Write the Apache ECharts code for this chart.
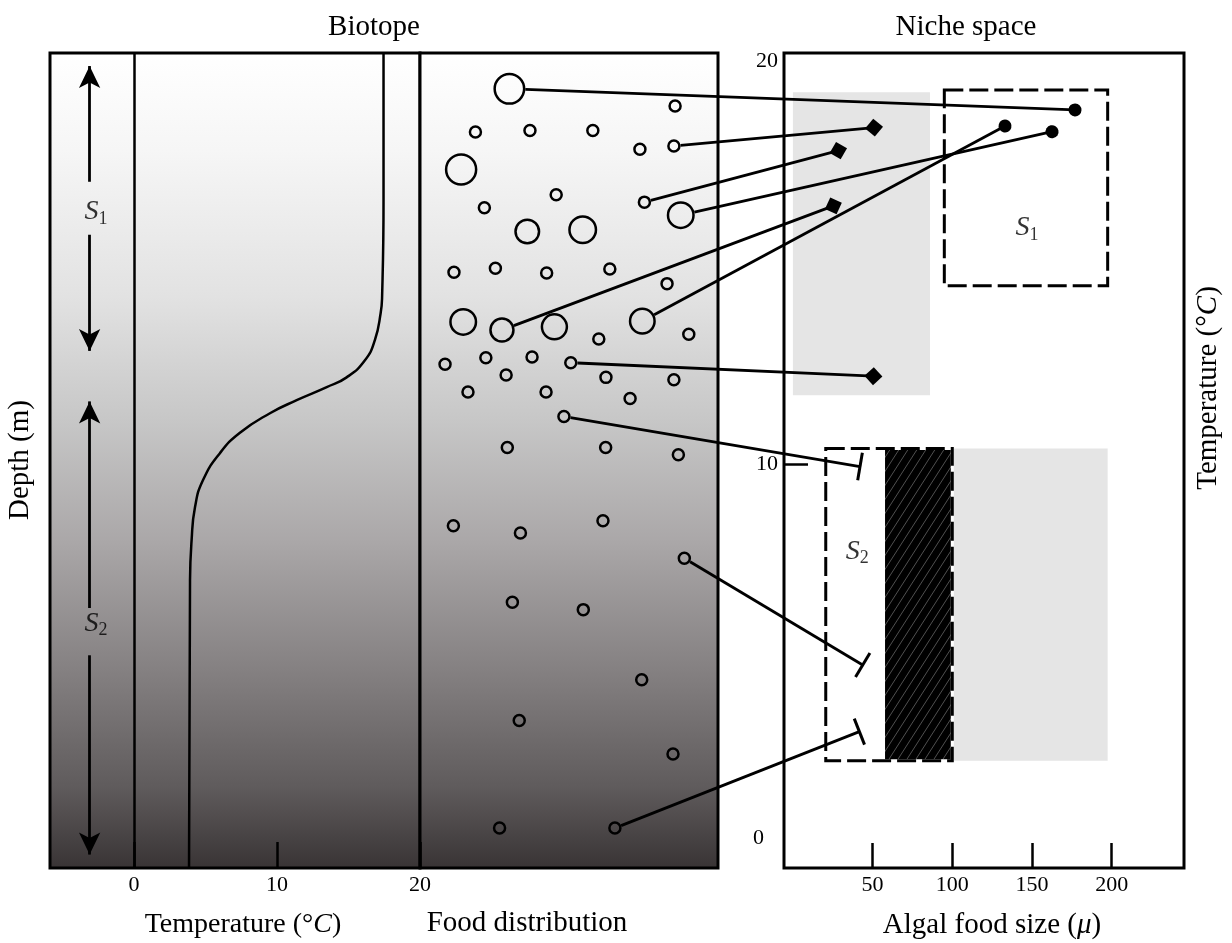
<!DOCTYPE html>
<html><head><meta charset="utf-8">
<script src="https://cdn.jsdelivr.net/npm/echarts@6/dist/echarts.min.js"></script>
<style>html,body{margin:0;padding:0;background:#fff}#c{width:1232px;height:943px}</style>
</head><body><div id="c"></div>
<script>
// ---------------- data ----------------
// Biotope: temperature axis ticks and temperature profile (depth in relative units, 0 = surface, 100 = bottom)
const tempTicks = [0, 10, 20];
const profileDepth = [0, 18, 29.9, 31.9, 35.2, 37.7, 39.8, 41.0, 42.6, 44.2, 46.6, 49.1, 52.4, 55.7, 59.8, 64.7, 100];
const profileTemp  = [17.45, 17.45, 17.35, 17.25, 16.85, 16.15, 14.87, 13.48, 11.38, 9.51, 7.41, 6.01, 4.83, 4.27, 4.03, 3.92, 3.85];

// Food distribution: horizontal position (0-100), depth (0-100), relative particle size
const foodPos = [30.0, 85.6, 18.6, 36.9, 58.0, 73.8, 85.2, 13.8, 45.7, 21.6,
                 75.3, 87.5, 36.0, 54.6, 11.4, 25.3, 42.5, 63.7, 82.9, 14.5,
                 27.5, 45.1, 74.6, 90.2, 60.0, 8.4, 22.1, 37.6, 50.6, 28.9,
                 62.4, 85.2, 16.1, 42.3, 70.5, 48.3, 29.3, 62.3, 86.7, 11.2,
                 33.7, 61.4, 88.7, 31.0, 54.8, 74.4, 33.3, 84.9, 26.7, 65.4];
const foodDepth = [4.4, 6.5, 9.7, 9.5, 9.5, 11.8, 11.4, 14.3, 17.4, 19.0,
                   18.3, 19.9, 21.9, 21.7, 26.9, 26.4, 27.0, 26.5, 28.3, 33.0,
                   34.0, 33.6, 32.9, 34.5, 35.1, 38.2, 37.4, 37.3, 38.0, 39.5,
                   39.8, 40.1, 41.6, 41.6, 42.4, 44.6, 48.4, 48.4, 49.3, 58.0,
                   58.9, 57.4, 62.0, 67.4, 68.3, 76.9, 81.9, 86.0, 95.1, 95.1];
const foodParticle = [2.68, 1, 1, 1, 1, 1, 1, 2.73, 1, 1,
                      1, 2.32, 2.14, 2.41, 1, 1, 1, 1, 1, 2.32,
                      2.09, 2.27, 2.23, 1, 1, 1, 1, 1, 1, 1,
                      1, 1, 1, 1, 1, 1, 1, 1, 1, 1,
                      1, 1, 1, 1, 1, 1, 1, 1, 1, 1];

// Species ranges along the depth axis: [from, arrow tip]
const depthArrows = [[15.8, 0.25], [22.3, 37.9], [68.1, 41.4], [73.9, 99.7]];
const arrowTemp = -3.1;
const biotopeLabels = [[-2.65, 19.5, '1'], [-2.65, 70.0, '2']];

// Niche space
const sizeTicks = [50, 100, 150, 200];
const nicheTempLabels = [0, 10, 20];
const nicheTempTicks = [10];
// rectangles: [size from, size to, temp from, temp to]
const foodRangeS1 = [0, 86, 11.72, 19.23];
const foodRangeS2 = [100, 197.5, 2.66, 10.4];
const usedRangeS2 = [57.8, 100, 2.66, 10.4];
const nicheS1 = [95, 197.5, 14.43, 19.28];
const nicheS2 = [20.6, 100, 2.66, 10.4];
const nicheLabels = [[146.9, 15.86, '1'], [40.4, 7.84, '2']];

// Niche points linked to food items
const nicheSize = [177.0, 50.9, 28.5, 162.6, 25.4, 133.1, 50.5, 42.1, 43.8, 41.7];
const nicheTemp = [18.79, 18.35, 17.78, 18.25, 16.41, 18.39, 12.19, 9.95, 5.03, 3.38];
const nicheKind = ['dot', 'diamond', 'diamond', 'dot', 'diamond', 'dot', 'diamond', 'bar', 'bar', 'bar'];
const nicheFood = [0, 6, 10, 11, 20, 22, 28, 35, 42, 49];

// ---------------- chart ----------------
const FONT = '"Liberation Serif", "DejaVu Serif", serif';
const chart = echarts.init(document.getElementById('c'), null, {renderer: 'canvas'});

const grad = new echarts.graphic.LinearGradient(0, 0, 0, 1, [
  {offset: 0, color: '#ffffff'}, {offset: 0.12, color: '#f6f6f6'},
  {offset: 0.3, color: '#e2e2e2'}, {offset: 0.45, color: '#c7c7c7'},
  {offset: 0.6, color: '#aaa7a8'}, {offset: 0.75, color: '#868283'},
  {offset: 0.9, color: '#5f5b5c'}, {offset: 1, color: '#383334'}
]);

// hatch pattern
const pc = document.createElement('canvas');
pc.width = 9; pc.height = 14;
const pctx = pc.getContext('2d');
pctx.fillStyle = '#000'; pctx.fillRect(0, 0, 9, 14);
pctx.strokeStyle = 'rgba(255,255,255,0.45)'; pctx.lineWidth = 0.7;
[[0, 14, 9, 0], [-9, 14, 0, 0], [9, 14, 18, 0]].forEach(l => {
  pctx.beginPath(); pctx.moveTo(l[0], l[1]); pctx.lineTo(l[2], l[3]); pctx.stroke();
});
const hatch = {image: pc, repeat: 'repeat'};

const sRich = {
  s: {fontFamily: FONT, fontStyle: 'italic', fontSize: 28, color: '#000', lineHeight: 32},
  n: {fontFamily: FONT, fontSize: 18, color: '#000', verticalAlign: 'bottom', lineHeight: 14}
};
const sLabel = {show: true, position: 'inside', formatter: p => '{s|S}{n|' + p.data[2] + '}', rich: sRich};

const rects = [foodRangeS1, foodRangeS2, usedRangeS2, nicheS1, nicheS2];
const rectKind = ['gray', 'gray', 'hatch', 'dash', 'dashW'];

const gridBase = {containLabel: false, outerBoundsMode: 'none'};
const tickStyle = {color: '#000', width: 2.5};
const LW = 2.8;

const option = {
  animation: false,
  backgroundColor: '#fff',
  textStyle: {fontFamily: FONT},
  grid: [
    Object.assign({left: 50, top: 53, width: 370, height: 815, show: true, backgroundColor: grad, borderColor: '#000', borderWidth: 3}, gridBase),
    Object.assign({left: 420, top: 53, width: 298, height: 815, show: true, backgroundColor: grad, borderColor: '#000', borderWidth: 3}, gridBase),
    Object.assign({left: 784, top: 53, width: 400, height: 815, show: true, backgroundColor: '#fff', borderColor: '#000', borderWidth: 3}, gridBase),
    Object.assign({left: 0, top: 0, width: 1232, height: 943, show: false}, gridBase)
  ],
  xAxis: [
    {gridIndex: 0, type: 'value', min: -5.87, max: 20, position: 'bottom', axisLine: {show: false, onZero: false}, splitLine: {show: false},
     axisTick: {show: true, inside: true, length: 26, customValues: tempTicks, lineStyle: tickStyle},
     axisLabel: {customValues: tempTicks, color: '#000', fontSize: 22, margin: 6, fontFamily: FONT}},
    {gridIndex: 1, type: 'value', min: 0, max: 100, show: false},
    {gridIndex: 2, type: 'value', min: -5.6, max: 245.4, position: 'bottom', axisLine: {show: false, onZero: false}, splitLine: {show: false},
     axisTick: {show: true, inside: true, length: 25, customValues: sizeTicks, lineStyle: tickStyle},
     axisLabel: {customValues: sizeTicks, color: '#000', fontSize: 22, margin: 6, fontFamily: FONT}},
    {gridIndex: 3, type: 'value', min: 0, max: 1232, show: false}
  ],
  yAxis: [
    {gridIndex: 0, type: 'value', min: 0, max: 100, inverse: true, show: false},
    {gridIndex: 1, type: 'value', min: 0, max: 100, inverse: true, show: false},
    {gridIndex: 2, type: 'value', min: 0, max: 20.2, position: 'left', axisLine: {show: false, onZero: false}, splitLine: {show: false},
     axisTick: {show: true, inside: true, length: 24, customValues: nicheTempTicks, lineStyle: tickStyle},
     axisLabel: {customValues: nicheTempLabels, color: '#000', margin: 6,
       formatter: v => v === 0 ? '{z|0}' : '{n|' + v + '}',
       rich: {z: {fontSize: 22, fontFamily: FONT, padding: [0, 14, 60, 0]}, n: {fontSize: 22, fontFamily: FONT}}}},
    {gridIndex: 3, type: 'value', min: 0, max: 943, inverse: true, show: false}
  ],
  series: [
    {type: 'line', id: 'profile', xAxisIndex: 0, yAxisIndex: 0,
     data: profileTemp.map((t, i) => [t, profileDepth[i]]),
     smooth: 0.5, symbol: 'none', silent: true,
     lineStyle: {color: '#000', width: 2.5}, z: 3,
     markLine: {silent: true, symbol: 'none', animation: false, label: {show: false},
       lineStyle: {color: '#000', width: 2.5, type: 'solid'}, data: [{xAxis: tempTicks[0]}]}},
    {type: 'scatter', id: 'food', xAxisIndex: 1, yAxisIndex: 1, silent: true,
     data: foodPos.map((x, i) => [x, foodDepth[i], foodParticle[i]]),
     symbol: 'circle', symbolSize: d => d[2] * 11,
     itemStyle: {color: 'rgba(0,0,0,0)', borderColor: '#000', borderWidth: 2.5, opacity: 1}, z: 4},
    {type: 'scatter', id: 'bioLabels', xAxisIndex: 0, yAxisIndex: 0, silent: true,
     data: biotopeLabels, symbolSize: 1, itemStyle: {color: 'rgba(0,0,0,0)'}, label: sLabel, z: 6},
    {type: 'custom', id: 'rects', xAxisIndex: 2, yAxisIndex: 2, silent: true, z: 2,
     data: rects.map(r => r.slice()),
     renderItem: (params, api) => {
       const k = rectKind[params.dataIndex];
       const p0 = api.coord([api.value(0), api.value(3)]);
       const p1 = api.coord([api.value(1), api.value(2)]);
       const shape = {x: p0[0], y: p0[1], width: p1[0] - p0[0], height: p1[1] - p0[1]};
       if (k === 'gray') return {type: 'rect', shape, style: {fill: '#e5e5e5'}};
       if (k === 'hatch') return {type: 'rect', shape, style: {fill: hatch}};
       const dashed = {type: 'rect', shape, style: {fill: 'none', stroke: '#000', lineWidth: 3, lineDash: [19, 6]}};
       if (k === 'dash') return dashed;
       return {type: 'group', children: [
         {type: 'rect', shape, style: {fill: 'none', stroke: '#fff', lineWidth: 3}}, dashed]};
     }},
    {type: 'scatter', id: 'nicheLabels', xAxisIndex: 2, yAxisIndex: 2, silent: true,
     data: nicheLabels, symbolSize: 1, itemStyle: {color: 'rgba(0,0,0,0)'}, label: sLabel, z: 6},
    {type: 'lines', id: 'arrows', coordinateSystem: 'cartesian2d', xAxisIndex: 3, yAxisIndex: 3, silent: true,
     data: [], symbol: ['none', 'arrow'], symbolSize: [[1, 1], [16, 22]], lineStyle: {color: '#000', width: LW, opacity: 1}, z: 5},
    {type: 'lines', id: 'toDot', coordinateSystem: 'cartesian2d', xAxisIndex: 3, yAxisIndex: 3, silent: true,
     data: [], symbol: ['none', 'circle'], symbolSize: 13, lineStyle: {color: '#000', width: LW, opacity: 1}, z: 5},
    {type: 'lines', id: 'toDiamond', coordinateSystem: 'cartesian2d', xAxisIndex: 3, yAxisIndex: 3, silent: true,
     data: [], symbol: ['none', 'diamond'], symbolSize: 18, lineStyle: {color: '#000', width: LW, opacity: 1}, z: 5},
    {type: 'lines', id: 'toBar', coordinateSystem: 'cartesian2d', xAxisIndex: 3, yAxisIndex: 3, silent: true,
     data: [], symbol: ['none', 'rect'], symbolSize: [[1, 1], [28, 3]], lineStyle: {color: '#000', width: LW, opacity: 1}, z: 5}
  ],
  graphic: [
    {type: 'text', x: 374, y: 27, style: {text: 'Biotope', fontFamily: FONT, fontSize: 29, fill: '#000', align: 'center', verticalAlign: 'middle'}},
    {type: 'text', x: 966, y: 27, style: {text: 'Niche space', fontFamily: FONT, fontSize: 29, fill: '#000', align: 'center', verticalAlign: 'middle'}},
    {type: 'text', x: 243, y: 925, style: {text: 'Temperature (°{i|C})', fontFamily: FONT, fontSize: 28, fill: '#000', align: 'center', verticalAlign: 'middle',
      rich: {i: {fontFamily: FONT, fontSize: 28, fontStyle: 'italic', fill: '#000'}}}},
    {type: 'text', x: 527, y: 923, style: {text: 'Food distribution', fontFamily: FONT, fontSize: 29, fill: '#000', align: 'center', verticalAlign: 'middle'}},
    {type: 'text', x: 992, y: 925, style: {text: 'Algal food size ({i|μ})', fontFamily: FONT, fontSize: 29, fill: '#000', align: 'center', verticalAlign: 'middle',
      rich: {i: {fontFamily: FONT, fontSize: 29, fontStyle: 'italic', fill: '#000'}}}},
    {type: 'text', x: 20, y: 460, rotation: Math.PI / 2, style: {text: 'Depth (m)', fontFamily: FONT, fontSize: 29, fill: '#000', align: 'center', verticalAlign: 'middle'}},
    {type: 'text', x: 1208, y: 388, rotation: Math.PI / 2, style: {text: 'Temperature (°{i|C})', fontFamily: FONT, fontSize: 29, fill: '#000', align: 'center', verticalAlign: 'middle',
      rich: {i: {fontFamily: FONT, fontSize: 29, fontStyle: 'italic', fill: '#000'}}}}
  ]
};

chart.setOption(option);

// ---- connectors drawn across both panels, positioned through the panels' own scales ----
const toPx = (g, pt) => chart.convertToPixel({xAxisIndex: g, yAxisIndex: g}, pt);
function shift(from, to, d) {
  const dx = to[0] - from[0], dy = to[1] - from[1];
  const L = Math.sqrt(dx * dx + dy * dy) || 1;
  return [from[0] + dx / L * d, from[1] + dy / L * d];
}
const arrowData = depthArrows.map(a => {
  const p0 = toPx(0, [arrowTemp, a[0]]);
  const tip = toPx(0, [arrowTemp, a[1]]);
  return {coords: [p0, shift(tip, p0, 11)]};
});
const byKind = {dot: [], diamond: [], bar: []};
nicheSize.forEach((s, i) => {
  const f = nicheFood[i];
  const c = toPx(1, [foodPos[f], foodDepth[f]]);
  const end = toPx(2, [s, nicheTemp[i]]);
  const start = shift(c, end, foodParticle[f] * 11 / 2 + 1.2);
  byKind[nicheKind[i]].push({coords: [start, end]});
});
chart.setOption({series: [
  {id: 'arrows', data: arrowData},
  {id: 'toDot', data: byKind.dot},
  {id: 'toDiamond', data: byKind.diamond},
  {id: 'toBar', data: byKind.bar}
]});
</script>
</body></html>
